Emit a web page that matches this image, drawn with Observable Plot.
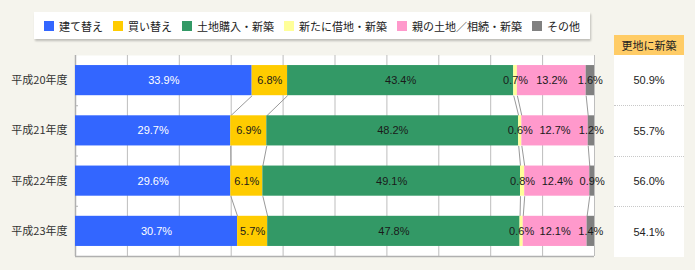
<!DOCTYPE html>
<html>
<head>
<meta charset="utf-8">
<script src="https://cdn.jsdelivr.net/npm/d3@7"></script>
<script src="https://cdn.jsdelivr.net/npm/@observablehq/plot@0.6"></script>
<style>
  html, body { margin: 0; padding: 0; }
  body { width: 695px; height: 270px; background: #f5f4ed; position: relative; overflow: hidden;
         font-family: "Liberation Sans", "Noto Sans CJK JP", sans-serif; color: #222; }
  #legend { position: absolute; left: 34px; top: 12px; width: 556px; height: 27px; background: #fff;
            box-shadow: 1px 2px 2px rgba(0,0,0,0.22); display: flex; align-items: center;
            box-sizing: border-box; padding-left: 10px; font-size: 11px; font-family: "Noto Sans CJK JP", sans-serif;
            white-space: nowrap; color: #222; }
  #legend .item { display: flex; align-items: center; margin-right: 10px; flex-shrink: 0; }
  #legend .sw { width: 10px; height: 10px; margin-right: 5px; flex-shrink: 0; }
  #chart { position: absolute; left: 0; top: 35px; }
  #table { position: absolute; left: 614px; top: 35px; width: 70px; }
  #table .head { height: 20px; background: #ffcc66; font-size: 11px; text-align: center; line-height: 20px;
                 font-family: "Noto Sans CJK JP", sans-serif; color: #222; white-space: nowrap; }
  #table .body { background: #fff; height: 201.5px; display: grid; grid-template-rows: repeat(4, 1fr); }
  #table .cell { display: flex; align-items: center; justify-content: center; font-size: 11px;
                 box-sizing: border-box; }
  #table .cell + .cell { border-top: 1px dotted #c8c8c8; }
</style>
</head>
<body>
<div id="legend"></div>
<div id="chart"></div>
<div id="table"></div>
<script>
const years = ["平成20年度", "平成21年度", "平成22年度", "平成23年度"];
const categories = ["建て替え", "買い替え", "土地購入・新築", "新たに借地・新築", "親の土地／相続・新築", "その他"];
const colors = ["#3366ff", "#ffcc00", "#339966", "#ffff99", "#ff99cc", "#808080"];
const tatekae  = [33.9, 29.7, 29.6, 30.7];
const kaikae   = [6.8, 6.9, 6.1, 5.7];
const tochi    = [43.4, 48.2, 49.1, 47.8];
const shakuchi = [0.7, 0.6, 0.8, 0.6];
const oya      = [13.2, 12.7, 12.4, 12.1];
const sonota   = [1.6, 1.2, 0.9, 1.4];
const tableTitle = "更地に新築";
const sarachi  = [50.9, 55.7, 56.0, 54.1];

const series = [tatekae, kaikae, tochi, shakuchi, oya, sonota];

// legend
const legend = document.getElementById("legend");
categories.forEach((c, k) => {
  const it = document.createElement("div");
  it.className = "item";
  it.innerHTML = `<div class="sw" style="background:${colors[k]}"></div><span>${c}</span>`;
  legend.appendChild(it);
});

// table
const table = document.getElementById("table");
table.innerHTML = `<div class="head">${tableTitle}</div><div class="body">${
  sarachi.map(v => `<div class="cell">${v.toFixed(1)}%</div>`).join("")}</div>`;

// stacked segments (normalized to 100%)
const segs = [];
const cums = [];
years.forEach((y, i) => {
  const total = d3.sum(series, s => s[i]);
  let cum = 0;
  const c = [0];
  series.forEach((s, k) => {
    const v = s[i];
    const x1 = cum / total * 100;
    cum += v;
    const x2 = cum / total * 100;
    c.push(x2);
    segs.push({row: i, year: y, cat: categories[k], k, v, x1, x2});
  });
  cums.push(c);
});
const links = [];
for (let i = 0; i < years.length - 1; i++) {
  for (let k = 1; k <= 5; k++) {
    links.push({x1: cums[i][k], y1: i + 0.8, x2: cums[i + 1][k], y2: i + 1.2});
  }
}

const chart = Plot.plot({
  width: 695,
  height: 235,
  marginTop: 20,
  marginBottom: 14,
  marginLeft: 75,
  marginRight: 101,
  style: {background: "transparent", fontFamily: "'Liberation Sans', 'Noto Sans CJK JP', sans-serif", fontSize: "11px"},
  x: {domain: [0, 100], axis: null},
  y: {domain: [0, years.length], reverse: true, axis: null},
  marks: [
    Plot.frame({fill: "white", stroke: null}),
    Plot.ruleX(d3.range(0, 101, 10), {stroke: "#bdbdbd", strokeWidth: 1}),
    Plot.ruleY([years.length], {stroke: "#b0b0b0", strokeWidth: 1.5}),
    Plot.ruleX([0], {stroke: "#b0b0b0", strokeWidth: 1.5}),
    Plot.axisY(d3.range(1, years.length), {anchor: "left", tickSize: -3, tickFormat: () => "", stroke: "#b0b0b0"}),
    Plot.axisY(years.map((_, i) => i + 0.5), {anchor: "left", tickSize: 0, tickPadding: 8,
      tickFormat: v => years[Math.floor(v)], fill: "#333", fontSize: 11,
      fontFamily: "'Noto Sans CJK JP', sans-serif"}),
    Plot.link(links, {x1: "x1", y1: "y1", x2: "x2", y2: "y2", stroke: "#999", strokeWidth: 1}),
    Plot.rect(segs, {x1: "x1", x2: "x2", y1: d => d.row + 0.2, y2: d => d.row + 0.8,
      fill: d => colors[d.k]}),
    Plot.text(segs, {x: d => (d.x1 + d.x2) / 2, y: d => d.row + 0.5, text: d => d.v.toFixed(1) + "%",
      fill: d => d.k === 0 ? "white" : "#1a1a1a", fontWeight: d => d.k === 0 ? "bold" : "normal", fontSize: 11})
  ]
});
document.getElementById("chart").appendChild(chart);
</script>
</body>
</html>
